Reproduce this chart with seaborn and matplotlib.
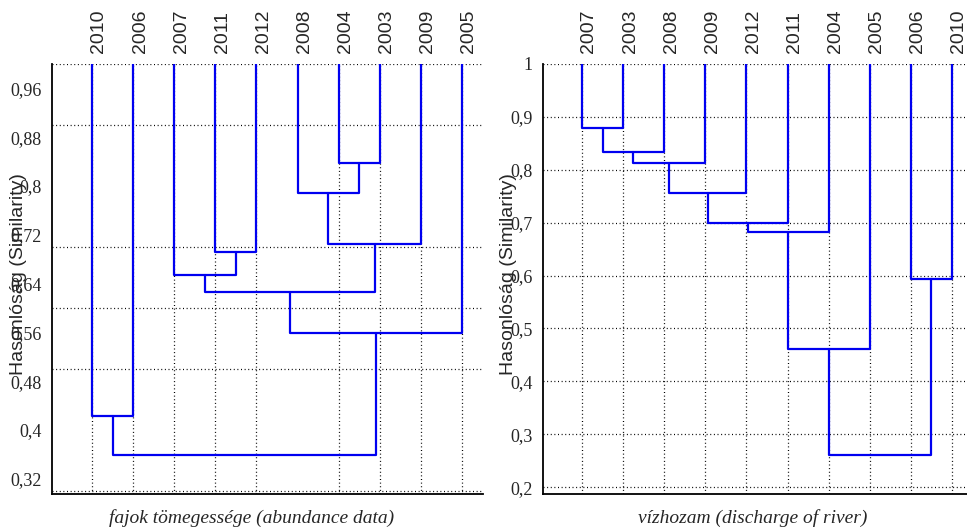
"""
Két dendrogram egymás mellett: fajok tömegessége és vízhozam hasonlósága évenként
"""

import numpy as np
import pandas as pd
import matplotlib
matplotlib.use("Agg")
import matplotlib.pyplot as plt
import seaborn as sns
from matplotlib.ticker import FuncFormatter, FixedLocator

# levelek sorrendje (balról jobbra); összevonások: a, b, hasonlóság
# az a/b indexek 10-től felfelé a korábbi összevonásokra utalnak
abund_years = ['2010', '2006', '2007', '2011', '2012', '2008', '2004', '2003', '2009', '2005']
abund_join_a = [6, 5, 11, 3, 2, 14, 15, 0, 17]
abund_join_b = [7, 10, 8, 4, 13, 12, 9, 1, 16]
abund_sim = [0.838, 0.789, 0.705, 0.692, 0.654, 0.626, 0.559, 0.423, 0.359]

flow_years = ['2007', '2003', '2008', '2009', '2012', '2011', '2004', '2005', '2006', '2010']
flow_join_a = [0, 10, 11, 12, 13, 14, 15, 8, 16]
flow_join_b = [1, 2, 3, 4, 5, 6, 7, 9, 17]
flow_sim = [0.879, 0.834, 0.813, 0.756, 0.699, 0.682, 0.461, 0.594, 0.261]

abund_yticks = [0.32, 0.40, 0.48, 0.56, 0.64, 0.72, 0.80, 0.88, 0.96]
flow_yticks = [0.2, 0.3, 0.4, 0.5, 0.6, 0.7, 0.8, 0.9, 1.0]
grid_y = [0.3, 0.4, 0.5, 0.6, 0.7, 0.8, 0.9, 1.0]

BLUE = '#0000f0'
DOT = (0, (0.8, 2.1))


def dendro_segments(years, join_a, join_b, sim):
    """U alakú szakaszok táblázata (egy 'seg' = egy összevonás)"""
    xs = list(range(1, len(years) + 1))
    hs = [1.0] * len(years)
    rows = []
    for k, (a, b, s) in enumerate(zip(join_a, join_b, sim)):
        rows += [(k, xs[a], hs[a]), (k, xs[a], s), (k, xs[b], s), (k, xs[b], hs[b])]
        xs.append((xs[a] + xs[b]) / 2)
        hs.append(s)
    return pd.DataFrame(rows, columns=['seg', 'x', 'y'])


def comma_fmt(v, _):
    return f"{v:.2f}".rstrip('0').rstrip('.').replace('.', ',')


def draw_panel(ax, years, join_a, join_b, sim, xlabel):
    df = dendro_segments(years, join_a, join_b, sim)
    sns.lineplot(data=df, x='x', y='y', units='seg', estimator=None, sort=False,
                 color=BLUE, lw=1.6, legend=False, ax=ax, zorder=3)

    # évszámok felül
    for i, yr in enumerate(years):
        ax.annotate(yr, xy=(i + 1, 1.0), xycoords=('data', 'axes fraction'),
                    xytext=(5, 8), textcoords='offset points',
                    rotation=90, ha='center', va='bottom',
                    fontsize=14, family='Liberation Sans', annotation_clip=False)

    ax.set_ylabel('Hasonlóság (Similarity)', fontsize=14, family='Liberation Sans')
    ax.set_xlabel(xlabel, fontsize=14, family='Liberation Serif', style='italic')
    ax.yaxis.set_major_formatter(FuncFormatter(comma_fmt))
    ax.tick_params(axis='both', which='major', direction='out', length=4, width=1.2,
                   labelsize=13, color='black')
    ax.set_axisbelow(True)
    sns.despine(ax=ax)
    for sp in ['left', 'bottom']:
        ax.spines[sp].set_linewidth(1.3)
        ax.spines[sp].set_color('black')


sns.set_style("white")
plt.rcParams['font.family'] = ['Liberation Serif', 'DejaVu Sans']

fig = plt.figure(figsize=(9.67, 5.28), dpi=100)
ax1 = fig.add_axes([52 / 967, 1 - 494 / 528, 431 / 967, 430 / 528])
ax2 = fig.add_axes([543 / 967, 1 - 494 / 528, 424 / 967, 430 / 528])
ax1.patch.set_alpha(0)
ax2.patch.set_alpha(0)

leaf_pos = list(range(1, 11))

# bal panel: fajok tömegessége
draw_panel(ax1, abund_years, abund_join_a, abund_join_b, abund_sim,
           'fajok tömegessége (abundance data)')
ax1.set_xlim(0.027, 10.51)
ax1.set_ylim(0.295, 1.0)
ax1.set_yticks(abund_yticks)
ax1.yaxis.set_minor_locator(FixedLocator(grid_y))
ax1.set_xticks(np.arange(1, 9) * 1.2)
ax1.xaxis.set_minor_locator(FixedLocator(leaf_pos))
ax1.set_xticklabels([])
ax1.tick_params(which='minor', length=0)
ax1.grid(False)
ax1.grid(True, which='minor', axis='both', color='black', lw=0.9, linestyle=DOT)
ax1.xaxis.set_label_coords(0.464, -0.035)
ax1.yaxis.set_label_coords(-0.058, 0.512)
for lab in ax1.get_yticklabels():
    lab.set_family('Liberation Serif')

# jobb panel: vízhozam
draw_panel(ax2, flow_years, flow_join_a, flow_join_b, flow_sim,
           'vízhozam (discharge of river)')
ax2.set_xlim(0.051, 10.365)
ax2.set_ylim(0.187, 1.0)
ax2.set_yticks(flow_yticks)
ax2.set_xticks(leaf_pos)
ax2.set_xticklabels([])
ax2.grid(True, which='major', axis='both', color='black', lw=0.9, linestyle=DOT)
ax2.xaxis.set_label_coords(0.495, -0.035)
ax2.yaxis.set_label_coords(-0.061, 0.512)
for lab in ax2.get_yticklabels():
    lab.set_family('Liberation Serif')

fig.savefig('out.png', dpi=100)
plt.close(fig)
